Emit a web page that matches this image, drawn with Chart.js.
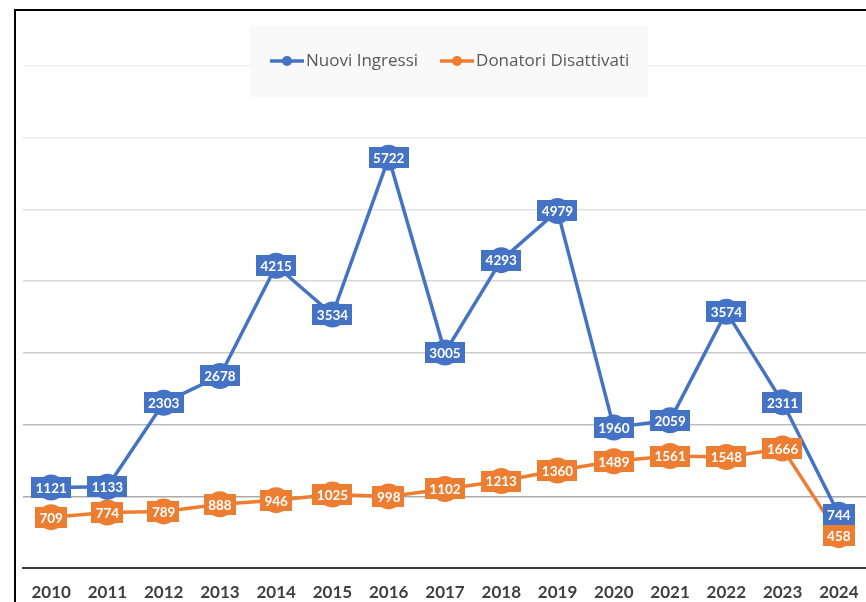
<!DOCTYPE html>
<html>
<head>
<meta charset="utf-8">
<script src="https://cdn.jsdelivr.net/npm/chart.js@4"></script>
<style>
  html, body { margin: 0; padding: 0; background: #fff; overflow: hidden; width: 866px; height: 602px; }
  #frame { position: absolute; left: 14px; top: 9px; width: 1000px; height: 1000px; border: 2px solid #000; box-sizing: border-box; }
  #wrap { position: absolute; left: 0; top: 0; width: 880px; height: 640px; }
</style>
</head>
<body>
<div id="frame"></div>
<div id="wrap"><canvas id="c" width="880" height="640"></canvas></div>
<script>
const years = ['2010','2011','2012','2013','2014','2015','2016','2017','2018','2019','2020','2021','2022','2023','2024'];
const nuoviIngressi = [1121, 1133, 2303, 2678, 4215, 3534, 5722, 3005, 4293, 4979, 1960, 2059, 3574, 2311, 744];
const donatoriDisattivati = [709, 774, 789, 888, 946, 1025, 998, 1102, 1213, 1360, 1489, 1561, 1548, 1666, 458];
const seriesNames = ['Nuovi Ingressi', 'Donatori Disattivati'];
const seriesColors = ['#4472C4', '#ED7D31'];

const gridColors = {1000:'#ababab', 2000:'#bdbdbd', 3000:'#cbcbcb', 4000:'#d8d8d8', 5000:'#e2e2e2', 6000:'#eaeaea', 7000:'#f0f0f0'};

const labelPlugin = {
  id: 'boxLabels',
  afterDatasetsDraw(chart) {
    const ctx = chart.ctx;
    ctx.save();
    ctx.font = 'bold 13.5px Lato';
    ctx.textAlign = 'center';
    ctx.textBaseline = 'middle';
    chart.data.datasets.forEach((ds, di) => {
      const meta = chart.getDatasetMeta(di);
      meta.data.forEach((pt, i) => {
        const txt = String(ds.data[i]);
        const w = ctx.measureText(txt).width + 9;
        const h = 21;
        ctx.fillStyle = ds.borderColor;
        ctx.fillRect(Math.round(pt.x - w / 2), Math.round(pt.y - h / 2), Math.round(w), h);
        ctx.fillStyle = '#ffffff';
        ctx.fillText(txt, pt.x, pt.y + 1);
      });
    });
    ctx.restore();
  }
};

const legendPlugin = {
  id: 'boxLegend',
  afterDraw(chart) {
    const ctx = chart.ctx;
    ctx.save();
    ctx.fillStyle = '#f9f9f9';
    ctx.fillRect(250, 25, 398, 72);
    ctx.font = '17px "Open Sans"';
    ctx.textBaseline = 'middle';
    ctx.textAlign = 'left';
    let x = 270;
    const y = 61;
    chart.data.datasets.forEach((ds) => {
      ctx.strokeStyle = ds.borderColor;
      ctx.lineWidth = 3.5;
      ctx.beginPath();
      ctx.moveTo(x, y);
      ctx.lineTo(x + 34, y);
      ctx.stroke();
      ctx.fillStyle = ds.borderColor;
      ctx.beginPath();
      ctx.arc(x + 17, y, 5, 0, Math.PI * 2);
      ctx.fill();
      ctx.fillStyle = '#595959';
      ctx.fillText(ds.label, x + 36, y);
      x += 36 + ctx.measureText(ds.label).width + 22;
    });
    ctx.restore();
  }
};

new Chart(document.getElementById('c'), {
  type: 'line',
  data: {
    labels: years,
    datasets: [
      { label: seriesNames[0], data: nuoviIngressi, borderColor: seriesColors[0], backgroundColor: seriesColors[0],
        borderWidth: 3.5, pointRadius: 13, pointBackgroundColor: seriesColors[0], pointBorderWidth: 0, tension: 0 },
      { label: seriesNames[1], data: donatoriDisattivati, borderColor: seriesColors[1], backgroundColor: seriesColors[1],
        borderWidth: 3.5, pointRadius: 13, pointBackgroundColor: seriesColors[1], pointBorderWidth: 0, tension: 0 }
    ]
  },
  options: {
    responsive: false,
    animation: false,
    layout: { padding: { top: 66, right: 10, left: 0, bottom: 0 } },
    plugins: { legend: { display: false }, tooltip: { enabled: false } },
    scales: {
      x: {
        offset: true,
        grid: { display: false, drawTicks: false },
        border: { display: true, color: '#404040', width: 2 },
        ticks: { color: '#404040', font: { family: 'Lato', size: 17, weight: 'bold' }, padding: 14, maxRotation: 0, autoSkip: false },
        afterFit(scale) { scale.height = 72; }
      },
      y: {
        min: 0, max: 7000,
        ticks: { display: false, stepSize: 1000 },
        grid: {
          drawTicks: false,
          lineWidth: 1.5,
          color: (c) => gridColors[c.tick.value] || 'rgba(0,0,0,0)'
        },
        border: { display: false },
        afterFit(scale) { scale.width = 23; }
      }
    }
  },
  plugins: [labelPlugin, legendPlugin]
});
</script>
</body>
</html>
